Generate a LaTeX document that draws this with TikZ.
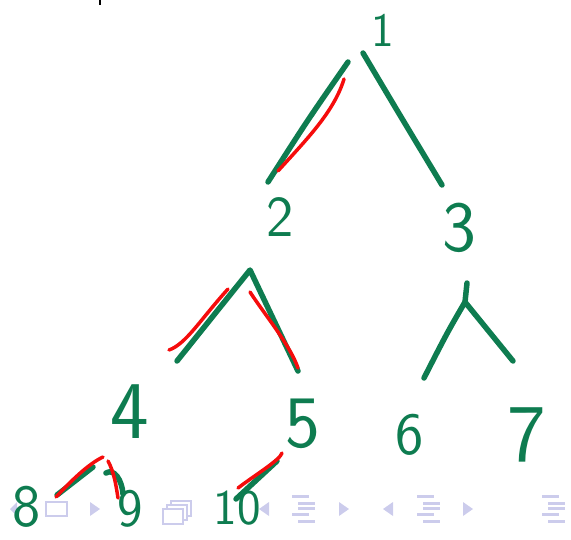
\documentclass[tikz,border=0pt]{standalone}
\usepackage{tikz}
\usetikzlibrary{calc}
\definecolor{pen}{RGB}{14,124,80}
\definecolor{hilite}{RGB}{245,12,12}
\definecolor{navgray}{RGB}{204,204,236}

\tikzset{
  num/.style={font=\sffamily\fontsize{#1}{#1}\selectfont, text=pen, inner sep=0pt},
  edge/.style={draw=pen, line width=5.5pt, line cap=round, line join=round},
  hl/.style={draw=hilite, line width=3.5pt, line cap=round, line join=round},
  navtri/.style={fill=navgray, draw=none},
  navbar/.style={draw=navgray, line width=3pt},
}

\begin{document}
\begin{tikzpicture}[x=1pt,y=-1pt]
	\useasboundingbox (0,0) rectangle (571,539);
	
	% faded navigation symbols
	\fill[navtri] (10,509) -- (17,502) -- (17,516) -- cycle;
	\draw[navgray, line width=1.6pt] (46,502) rectangle (67,516);
	\fill[navtri] (90,502) -- (100,509) -- (90,516) -- cycle;
	\foreach \dd in {8,4,0}{
		\draw[navgray, line width=1.6pt, fill=white] (163+\dd,509-\dd) rectangle (183+\dd,524-\dd);
	}
	\fill[navtri] (259,509) -- (269,502) -- (269,516) -- cycle;
	\fill[navtri] (339,502) -- (349,509) -- (339,516) -- cycle;
	\fill[navtri] (383,509) -- (393,502) -- (393,516) -- cycle;
	\fill[navtri] (463,502) -- (473,509) -- (463,516) -- cycle;
	\foreach \xx in {292,417,542}{
		\draw[navbar] (\xx,496) -- ++(17,0);
		\draw[navbar] (\xx+6,503) -- ++(17,0);
		\draw[navbar] (\xx+6,508) -- ++(17,0);
		\draw[navbar] (\xx,514) -- ++(17,0);
		\draw[navbar] (\xx+6,521) -- ++(17,0);
	}
	
	% numbers
	\node[num=48] (n1) at (383,30) {1};
	\node[num=58] (n2) at (280,217) {2};
	\node[num=72] (n3) at (459,228) {3};
	\node[num=82] (n4) at (130,412) {4};
	\node[num=74] (n5) at (303,424) {5};
	\node[num=60] (n6) at (410,435) {6};
	\node[num=82] (n7) at (527,435) {7};
	\node[num=60] (n8) at (27,507) {8};
	\node[num=54] (n9) at (130,509) {9};
	\node[num=50] (n10) at (237,508) {10};
	
	% stroke ends
	\coordinate (a12) at (348,62);   \coordinate (b12) at (268,182);
	\coordinate (a13) at (363,53);   \coordinate (b13) at (442,185);
	\coordinate (top2) at (250,270);
	\coordinate (b24) at (177,361);  \coordinate (b25) at (298,371);
	\coordinate (tail3) at (467,283);
	\coordinate (top3) at (465,302);
	\coordinate (b36) at (424,378);  \coordinate (b37) at (513,361);
	\coordinate (a48) at (93,467);   \coordinate (b48) at (57,495);
	\coordinate (a49) at (106,473);  \coordinate (b49) at (123,494);
	\coordinate (a510) at (277,461); \coordinate (b510) at (236,499);
	
	% green tree edges
	\draw[edge] (a12) .. controls (307,121) .. (b12);
	\draw[edge] (a13) .. controls (398,112) .. (b13);
	\draw[edge] (b24) -- (top2) -- (b25);
	\draw[edge] (tail3) -- (top3);
	\draw[edge] (b36) .. controls (447,333) .. (top3) -- (b37);
	\draw[edge] (a48) -- (b48);
	\draw[edge] (a49) .. controls (114,468) and (122,480) .. (b49);
	\draw[edge] (a510) -- (b510);
	
	% red highlights
	\draw[hl] (344,79) .. controls (334,112) and (306,140) .. (278,171);
	\draw[hl] (228,289) .. controls (200,320) and (186,344) .. (169,350);
	\draw[hl] (250,292) .. controls (265,315) and (290,345) .. (298,368);
	\draw[hl] (103,457) .. controls (88,464) and (70,482) .. (56,497);
	\draw[hl] (108,461) .. controls (114,472) and (116,485) .. (118,498);
	\draw[hl] (282,453) .. controls (280,460) and (255,475) .. (238,488);
	
	% cut-off mark at the top
	\draw[black, line width=2.5pt] (100,0) -- (100,5);
\end{tikzpicture}
\end{document}
